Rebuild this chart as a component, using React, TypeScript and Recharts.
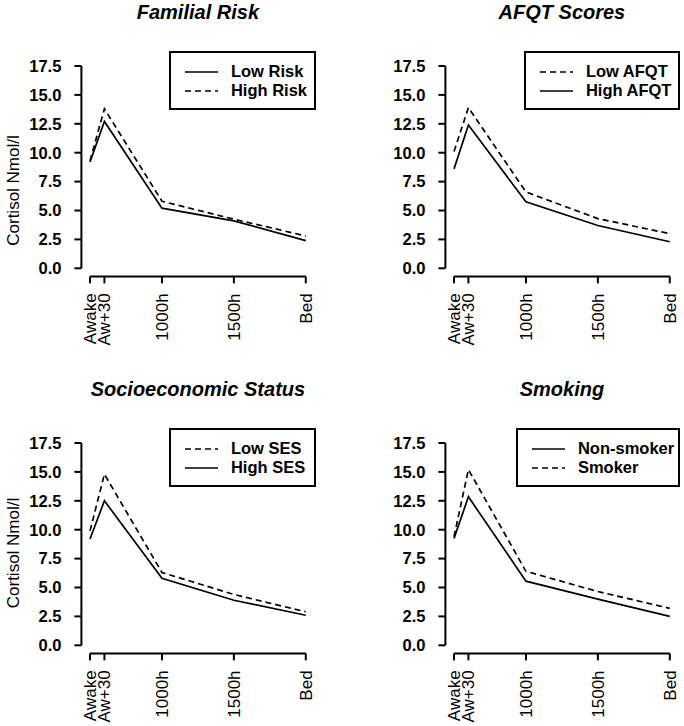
import { LineChart, Line, XAxis, YAxis, ReferenceLine } from "recharts"

const FONT = "'Liberation Sans', Arial, Helvetica, sans-serif"

// sampling times (x position) and their labels
const timeLabels = ["Awake", "Aw+30", "1000h", "1500h", "Bed"]
const timePos = [1, 1.2, 2, 3, 4]
const yTicks = [0, 2.5, 5, 7.5, 10, 12.5, 15, 17.5]

// cortisol, nmol/l
const lowRisk = [9.2, 12.7, 5.2, 4.1, 2.4]
const highRisk = [9.3, 13.8, 5.8, 4.25, 2.8]
const lowAfqt = [10.1, 13.9, 6.6, 4.3, 3.0]
const highAfqt = [8.6, 12.4, 5.75, 3.7, 2.3]
const lowSes = [9.9, 14.8, 6.3, 4.4, 2.9]
const highSes = [9.2, 12.5, 5.8, 3.9, 2.6]
const nonSmoker = [9.25, 12.85, 5.55, 4.0, 2.5]
const smoker = [9.4, 15.2, 6.4, 4.65, 3.2]

interface Series { name: string; values: number[]; dashed: boolean }
interface PanelCfg {
  title: string; series: Series[]; left: number; top: number; width: number
  yAxisW: number; marginRight: number; yLabelY?: number; legendW: number
}

const PLOT_W = 233
const PLOT_H = 218.5
const CHART_H = 349
const MARGIN_TOP = 57.9

const panels: PanelCfg[] = [
  {
    title: "Familial Risk", left: 0, top: 0, width: 342, yAxisW: 81.4, marginRight: 27.6, yLabelY: 190.5, legendW: 147,
    series: [{ name: "Low Risk", values: lowRisk, dashed: false }, { name: "High Risk", values: highRisk, dashed: true }],
  },
  {
    title: "AFQT Scores", left: 362, top: 0, width: 322, yAxisW: 83.4, marginRight: 5.6, legendW: 156,
    series: [{ name: "Low AFQT", values: lowAfqt, dashed: true }, { name: "High AFQT", values: highAfqt, dashed: false }],
  },
  {
    title: "Socioeconomic Status", left: 0, top: 377, width: 342, yAxisW: 81.4, marginRight: 27.6, yLabelY: 176, legendW: 147,
    series: [{ name: "Low SES", values: lowSes, dashed: true }, { name: "High SES", values: highSes, dashed: false }],
  },
  {
    title: "Smoking", left: 362, top: 377, width: 322, yAxisW: 83.4, marginRight: 5.6, legendW: 164,
    series: [{ name: "Non-smoker", values: nonSmoker, dashed: false }, { name: "Smoker", values: smoker, dashed: true }],
  },
]

function XTick(props: any) {
  const { x, y, payload } = props
  const label = timeLabels[timePos.indexOf(payload.value)]
  return (
    <text x={x} y={y} transform={`rotate(-90, ${x}, ${y})`} textAnchor="end" dy="0.35em" fontSize={17} fontFamily={FONT} fill="#000">
      {label}
    </text>
  )
}

function Panel({ cfg }: { cfg: PanelCfg }) {
  const data = timePos.map((t, i) => ({ t, s0: cfg.series[0].values[i], s1: cfg.series[1].values[i] }))
  const plotRight = cfg.left + cfg.yAxisW + PLOT_W
  const legendLeft = plotRight + 1.5 - cfg.legendW
  return (
    <>
      <div style={{ position: "absolute", left: cfg.left, top: cfg.top }}>
        <LineChart width={cfg.width} height={CHART_H} data={data} margin={{ top: MARGIN_TOP, right: cfg.marginRight, bottom: 0, left: 0 }}>
          <XAxis type="number" dataKey="t" domain={[0.88, 4.12]} allowDataOverflow ticks={timePos} interval={0}
            axisLine={false} stroke="#000" tickLine={{ stroke: "#000", strokeWidth: 2 }} tickSize={7} tickMargin={10}
            height={CHART_H - MARGIN_TOP - PLOT_H} tick={<XTick />} />
          <YAxis type="number" domain={[-0.7, 18.2]} allowDataOverflow ticks={yTicks} interval={0}
            axisLine={false} stroke="#000" tickLine={{ stroke: "#000", strokeWidth: 2 }} tickSize={7} tickMargin={13}
            width={cfg.yAxisW} tickFormatter={(v: number) => v.toFixed(1)}
            tick={{ fill: "#000", fontSize: 16.5, fontWeight: "bold", fontFamily: FONT }}
            label={cfg.yLabelY !== undefined ? {
              content: () => (
                <text x={13.5} y={cfg.yLabelY} transform={`rotate(-90, 13.5, ${cfg.yLabelY})`} textAnchor="middle" dy="0.35em"
                  fontSize={17} fontFamily={FONT} fill="#000">Cortisol Nmol/l</text>
              ),
            } : undefined} />
          <ReferenceLine segment={[{ x: 1, y: -0.7 }, { x: 4, y: -0.7 }]} stroke="#000" strokeWidth={2} ifOverflow="visible" />
          <ReferenceLine segment={[{ x: 0.88, y: 0 }, { x: 0.88, y: 17.5 }]} stroke="#000" strokeWidth={2} ifOverflow="visible" />
          {cfg.series.map((s, i) => (
            <Line key={s.name} type="linear" dataKey={`s${i}`} stroke="#000" strokeWidth={1.7} dot={false} activeDot={false}
              strokeDasharray={s.dashed ? "6 4" : undefined} isAnimationActive={false} />
          ))}
        </LineChart>
      </div>
      <div style={{
        position: "absolute", left: cfg.left, top: cfg.top + 1.6, width: cfg.yAxisW * 2 + PLOT_W, textAlign: "center",
        fontSize: 20, lineHeight: "20px", fontWeight: "bold", fontStyle: "italic", fontFamily: FONT, color: "#000", whiteSpace: "nowrap",
      }}>
        {cfg.title}
      </div>
      <div style={{
        position: "absolute", left: legendLeft, top: cfg.top + 51, width: cfg.legendW, height: 59, boxSizing: "border-box",
        border: "2px solid #000", background: "#fff",
      }}>
        {cfg.series.map((s, i) => (
          <div key={s.name}>
            <svg style={{ position: "absolute", left: 14, top: 18.7 + i * 19 - 3 }} width={34} height={6}>
              <line x1={0} y1={3} x2={33} y2={3} stroke="#000" strokeWidth={1.7} strokeDasharray={s.dashed ? "6 4" : undefined} />
            </svg>
            <span style={{
              position: "absolute", left: 60, top: 18.7 + i * 19 - 9.5, lineHeight: "19px", fontSize: 16.5, fontWeight: "bold",
              fontFamily: FONT, color: "#000", whiteSpace: "nowrap",
            }}>{s.name}</span>
          </div>
        ))}
      </div>
    </>
  )
}

export default function App() {
  return (
    <div style={{ position: "absolute", left: 0, top: 0, width: 684, height: 726, background: "#fff", overflow: "hidden" }}>
      {panels.map((p) => <Panel key={p.title} cfg={p} />)}
    </div>
  )
}
